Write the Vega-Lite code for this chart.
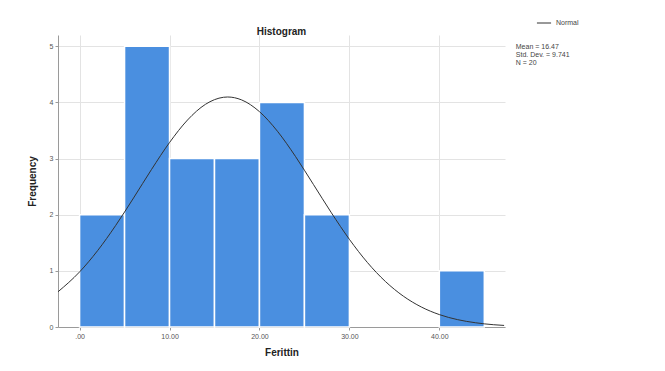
{
  "$schema": "https://vega.github.io/schema/vega-lite/v6.json",
  "autosize": "none",
  "width": 447,
  "height": 292,
  "padding": {"left": 58, "top": 35, "right": 160, "bottom": 44},
  "background": "white",
  "config": {
    "font": "Liberation Sans",
    "view": {"stroke": null},
    "axis": {
      "gridColor": "#e3e3e3",
      "gridWidth": 1,
      "domainColor": "#9a9a9a",
      "tickColor": "#9a9a9a",
      "tickSize": 3,
      "labelColor": "#555555",
      "labelFontSize": 7,
      "titleFontSize": 10,
      "titleFontWeight": "bold",
      "titleColor": "#222222"
    }
  },
  "title": {
    "text": "Histogram",
    "fontSize": 10,
    "fontWeight": "bold",
    "color": "#222222",
    "anchor": "middle",
    "offset": 0,
    "dy": 22
  },
  "datasets": {
    "bars": [
      {"bin_start": 0, "bin_end": 5, "count": 2},
      {"bin_start": 5, "bin_end": 10, "count": 5},
      {"bin_start": 10, "bin_end": 15, "count": 3},
      {"bin_start": 15, "bin_end": 20, "count": 3},
      {"bin_start": 20, "bin_end": 25, "count": 4},
      {"bin_start": 25, "bin_end": 30, "count": 2},
      {"bin_start": 40, "bin_end": 45, "count": 1}
    ],
    "curve": [
      {"x": -2.4, "y": 0.627},
      {"x": 0, "y": 0.981},
      {"x": 2, "y": 1.359},
      {"x": 4, "y": 1.805},
      {"x": 6, "y": 2.298},
      {"x": 8, "y": 2.806},
      {"x": 10, "y": 3.285},
      {"x": 12, "y": 3.686},
      {"x": 14, "y": 3.966},
      {"x": 16, "y": 4.091},
      {"x": 16.47, "y": 4.096},
      {"x": 18, "y": 4.045},
      {"x": 20, "y": 3.835},
      {"x": 22, "y": 3.486},
      {"x": 24, "y": 3.038},
      {"x": 26, "y": 2.538},
      {"x": 28, "y": 2.033},
      {"x": 30, "y": 1.561},
      {"x": 32, "y": 1.149},
      {"x": 34, "y": 0.811},
      {"x": 36, "y": 0.549},
      {"x": 38, "y": 0.356},
      {"x": 40, "y": 0.221},
      {"x": 42, "y": 0.132},
      {"x": 44, "y": 0.076},
      {"x": 46, "y": 0.041},
      {"x": 47.2, "y": 0.028}
    ],
    "stats": [
      {"label": "Mean = 16.47\nStd. Dev. = 9.741\nN = 20"}
    ]
  },
  "layer": [
    {
      "data": {"name": "bars"},
      "mark": {"type": "rect", "color": "#4a8fe0", "stroke": "white", "strokeWidth": 1.5},
      "encoding": {
        "x": {
          "field": "bin_start",
          "type": "quantitative",
          "scale": {"domain": [-2.4, 47.3], "nice": false, "zero": false},
          "axis": {
            "values": [0, 10, 20, 30, 40],
            "labelExpr": "datum.value == 0 ? '.00' : format(datum.value, '.2f')",
            "title": "Ferittin",
            "titlePadding": 8
          }
        },
        "x2": {"field": "bin_end"},
        "y": {
          "field": "count",
          "type": "quantitative",
          "scale": {"domain": [0, 5.2], "nice": false},
          "axis": {"values": [0, 1, 2, 3, 4, 5], "format": "d", "title": "Frequency", "titlePadding": 12}
        },
        "y2": {"datum": 0}
      }
    },
    {
      "data": {"name": "curve"},
      "mark": {"type": "line", "interpolate": "monotone", "strokeWidth": 1, "clip": true},
      "encoding": {
        "x": {"field": "x", "type": "quantitative"},
        "y": {"field": "y", "type": "quantitative"},
        "stroke": {
          "datum": "Normal",
          "scale": {"range": ["#333333"]},
          "legend": {
            "title": null,
            "orient": "none",
            "legendX": 478,
            "legendY": -20,
            "symbolType": "stroke",
            "symbolSize": 200,
            "symbolStrokeWidth": 1,
            "labelFontSize": 7,
            "labelColor": "#444444"
          }
        }
      }
    },
    {
      "data": {"name": "stats"},
      "mark": {"type": "text", "align": "left", "baseline": "top", "lineBreak": "\n", "fontSize": 7, "color": "#444444", "clip": false, "lineHeight": 8},
      "encoding": {
        "x": {"datum": 48.5},
        "y": {"datum": 5.05},
        "text": {"field": "label"}
      }
    }
  ]
}
